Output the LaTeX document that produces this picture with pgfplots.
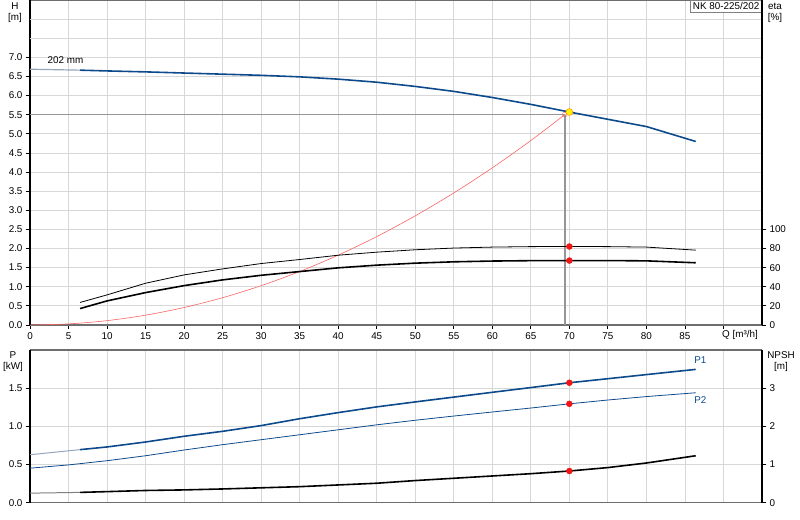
\documentclass[border=0pt]{standalone}
\usepackage{pgfplots}
\pgfplotsset{compat=1.18}
\usepackage{fontspec}
\setmainfont{Liberation Sans}

\definecolor{curveblue}{RGB}{12,74,140}
\definecolor{paleblue}{RGB}{150,165,190}
\definecolor{gridgray}{RGB}{215,215,215}
\definecolor{refgray}{RGB}{150,150,150}
\definecolor{axisgray}{RGB}{110,110,110}
\definecolor{ptred}{RGB}{240,20,20}
\definecolor{sysred}{RGB}{250,100,100}

\pgfplotsset{
  pumpbase/.style={scale only axis, width=732bp, xmin=0, xmax=95,
    xtick={0,5,10,15,20,25,30,35,40,45,50,55,60,65,70,75,80,85,90},
    tick align=outside, major tick length=4bp,
    tick style={black, line width=0.8pt}},
}

\begin{document}
\begin{tikzpicture}[font=\fontsize{9.9}{11}\selectfont]
\useasboundingbox (0,0) rectangle (800bp,520bp);

% ---- top panel: head and efficiency ----
\begin{axis}[pumpbase, at={(30bp,195bp)}, anchor=south west, height=325bp,
  ymin=0, ymax=8.5, clip=false,
  ytick={0,0.5,1,1.5,2,2.5,3,3.5,4,4.5,5,5.5,6,6.5,7},
  yticklabels={0.0,0.5,1.0,1.5,2.0,2.5,3.0,3.5,4.0,4.5,5.0,5.5,6.0,6.5,7.0},
  xticklabels={0,5,10,15,20,25,30,35,40,45,50,55,60,65,70,75,80,85,{}},
  extra y ticks={7.5,8}, extra y tick labels={},
  extra y tick style={grid=major, major tick length=0pt},
  xtick pos=left, ytick pos=left,
  grid=major, grid style={gridgray, line width=0.8pt},
  separate axis lines,
  x axis line style={draw=axisgray, line width=1.3pt},
  y axis line style={draw=black, line width=1.2pt}]
\addplot[refgray, line width=1.2pt] coordinates {(0,5.5)(69.4,5.5)};
\addplot[refgray, line width=1.6pt] coordinates {(69.4,5.5)(69.4,0)};
\addplot[sysred, line width=0.6pt, smooth] coordinates {
  (0,0)(5,0.029)(10,0.114)(15,0.257)(20,0.457)(25,0.714)(30,1.028)(35,1.399)
  (40,1.827)(45,2.312)(50,2.855)(55,3.454)(60,4.111)(65,4.825)(69.4,5.5)};
\addplot[paleblue, line width=1.2pt] coordinates {(0,6.69)(6.5,6.665)};
\addplot[curveblue, line width=1.6pt] coordinates {
  (6.5,6.665)(10,6.645)(15,6.62)(20,6.59)(25,6.56)(30,6.53)(35,6.49)(40,6.43)
  (45,6.35)(50,6.24)(55,6.11)(60,5.95)(65,5.77)(70,5.57)(75,5.38)(80,5.19)(86.4,4.80)};
\addplot[only marks, mark=o, mark size=2.5bp, sysred] coordinates {(69.4,5.5)};
\addplot[only marks, mark=*, mark size=3.5bp, mark options={draw=orange, fill=yellow}] coordinates {(70,5.57)};
\node at (axis cs:4.6,6.92) {202 mm};
\node[draw=gray, fill=white, anchor=north east, inner sep=2.5bp] at (rel axis cs:1,1) {NK 80-225/202};
\node[anchor=north west, inner sep=0pt] at ([xshift=-1.5bp, yshift=-5bp]axis cs:90,0) {Q [m³/h]};
\end{axis}

\begin{axis}[pumpbase, at={(30bp,195bp)}, anchor=south west, height=325bp,
  ymin=0, ymax=340, axis y line*=right, axis x line=none,
  ytick={0,20,40,60,80,100}, yticklabels={0,20,40,60,80,100},
  y axis line style={draw=black, line width=1.2pt}]
\addplot[black, line width=0.8pt] coordinates {
  (6.5,23.6)(10,31.5)(15,43.7)(20,52.4)(25,58.7)(30,64.3)(35,68.5)(40,73)
  (45,76.2)(50,78.7)(55,80.5)(60,81.5)(65,82)(70,82.1)(75,82)(80,81.5)(86.4,78.3)};
\addplot[black, line width=1.6pt] coordinates {
  (6.5,17.2)(10,25.2)(15,33.9)(20,41.2)(25,47.2)(30,52)(35,55.9)(40,59.8)
  (45,62.6)(50,64.7)(55,66.1)(60,66.9)(65,67.3)(70,67.4)(75,67.4)(80,67.1)(86.4,65.1)};
\addplot[only marks, mark=*, mark size=3bp, ptred] coordinates {(70,82.1)(70,67.4)};
\end{axis}

% ---- bottom panel: power and NPSH ----
\begin{axis}[pumpbase, at={(30bp,17.3bp)}, anchor=south west, height=152.7bp,
  ymin=0, ymax=2,
  ytick={0,0.5,1,1.5}, yticklabels={0.0,0.5,1.0,1.5},
  xticklabels={}, xtick style={draw=none},
  xtick pos=left, ytick pos=left,
  grid=major, grid style={gridgray, line width=0.8pt},
  separate axis lines,
  x axis line style={draw=axisgray, line width=1.3pt},
  y axis line style={draw=black, line width=1.2pt}]
\addplot[paleblue, line width=1.0pt] coordinates {(0,0.628)(6.5,0.695)};
\addplot[curveblue, line width=1.6pt] coordinates {
  (6.5,0.695)(10,0.73)(15,0.795)(20,0.87)(25,0.935)(30,1.01)(35,1.10)(40,1.18)
  (45,1.255)(50,1.32)(55,1.383)(60,1.446)(65,1.508)(70,1.571)(75,1.624)(80,1.678)(86.4,1.746)};
\addplot[curveblue, line width=0.8pt] coordinates {
  (0,0.452)(5,0.495)(10,0.55)(15,0.615)(20,0.69)(25,0.76)(30,0.825)(35,0.89)
  (40,0.955)(45,1.02)(50,1.08)(55,1.135)(60,1.188)(65,1.24)(70,1.295)(75,1.345)(80,1.39)(86.4,1.44)};
\addplot[only marks, mark=*, mark size=3bp, ptred] coordinates {(70,1.571)(70,1.295)};
\node[text=curveblue] at (axis cs:87,1.865) {P1};
\node[text=curveblue] at (axis cs:87,1.35) {P2};
\end{axis}

\begin{axis}[pumpbase, at={(30bp,17.3bp)}, anchor=south west, height=152.7bp,
  ymin=0, ymax=4, axis y line*=right, axis x line=none,
  ytick={0,1,2,3}, yticklabels={0,1,2,3},
  y axis line style={draw=black, line width=1.2pt}]
\addplot[gray, line width=1.0pt] coordinates {(0,0.25)(6.5,0.27)};
\addplot[black, line width=1.6pt] coordinates {
  (6.5,0.27)(10,0.29)(15,0.32)(20,0.335)(25,0.36)(30,0.39)(35,0.42)(40,0.465)
  (45,0.51)(50,0.58)(55,0.64)(60,0.70)(65,0.76)(70,0.83)(75,0.92)(80,1.04)(86.4,1.23)};
\addplot[only marks, mark=*, mark size=3bp, ptred] coordinates {(70,0.83)};
\end{axis}

% axis titles
\node at (15bp,514bp) {H};
\node at (15bp,502bp) {[m]};
\node at (775bp,514bp) {eta};
\node at (775bp,502bp) {[\%]};
\node at (13bp,165bp) {P};
\node at (13bp,153bp) {[kW]};
\node at (781bp,165bp) {NPSH};
\node at (781bp,153bp) {[m]};
\end{tikzpicture}
\end{document}
